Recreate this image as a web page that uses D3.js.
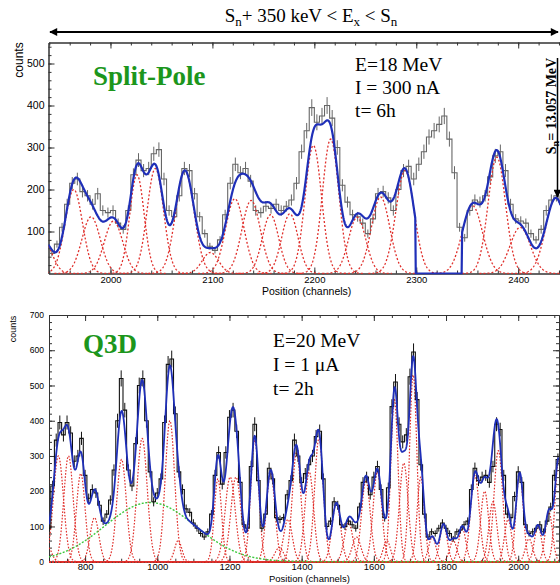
<!DOCTYPE html>
<html>
<head>
<meta charset="utf-8">
<script src="https://cdn.jsdelivr.net/npm/d3@7"></script>
<style>
	body { margin: 0; background: #fff; }
	svg { display: block; }
	text { white-space: pre; }
</style>
</head>
<body>
<svg id="chart" width="560" height="585"></svg>
<script>
// ---- Split-Pole spectrum (top) ----
const spBinStart = 1940; // low edge of first bin (channels)
const spBinWidth = 5;
const spCounts = [
	48, 70, 110, 165, 215, 225, 195, 185, 165, 190,
	150, 145, 150, 120, 105, 150, 235, 270, 245, 250,
	285, 295, 225, 150, 135, 185, 250, 245, 190, 135,
	95, 65, 55, 80, 140, 215, 260, 240, 250, 220,
	150, 145, 160, 155, 165, 150, 160, 175, 215, 290,
	340, 395, 360, 375, 400, 370, 300, 210, 170, 140,
	135, 120, 95, 130, 190, 195, 180, 150, 200, 245,
	255, 225, 260, 290, 325, 340, 355, 375, 320, 240,
	110, 85, 150, 175, 170, 185, 230, 280, 290, 245,
	165, 130, 125, 120, 95, 80, 105, 150, 175, 185,
	170
];
const spPeakCh    = [1935, 1964, 1981, 2003, 2026, 2044, 2073, 2098, 2122, 2138, 2157, 2176, 2199, 2216, 2242, 2265, 2289, 2355, 2379, 2402, 2437];
const spPeakAmp   = [75, 200, 135, 125, 235, 250, 245, 50, 178, 174, 140, 142, 305, 320, 134, 182, 245, 162, 277, 110, 180];
const spPeakSigma = [8, 8.5, 9, 9, 7, 8, 9, 8, 9, 9, 8, 8, 8, 8, 8.5, 9, 9, 10, 8.5, 10, 10];
const spFitGap = [2300, 2344]; // contaminant region left out of the fit
const spTicksX = [2000, 2100, 2200, 2300, 2400];
const spTicksY = [100, 200, 300, 400, 500];

// ---- Q3D spectrum (bottom) ----
const q3dBinStart = 700; // centre of first bin (channels)
const q3dBinWidth = 10;
const q3dCounts = [
	95, 215, 345, 395, 360, 395, 365, 285, 300, 350,
	245, 180, 205, 195, 160, 115, 135, 175, 260, 400,
	520, 430, 260, 215, 335, 500, 520, 400, 255, 170,
	195, 235, 395, 560, 575, 420, 255, 205, 150, 140,
	110, 95, 80, 70, 85, 135, 245, 310, 220, 310,
	410, 430, 370, 225, 105, 95, 270, 390, 230, 95,
	135, 265, 235, 125, 120, 125, 190, 230, 345, 300,
	225, 250, 275, 300, 355, 370, 235, 100, 115, 170,
	160, 105, 100, 115, 105, 95, 155, 225, 240, 190,
	240, 270, 205, 125, 210, 440, 510, 390, 340, 360,
	525, 595, 460, 275, 135, 70, 85, 80, 95, 110,
	95, 80, 65, 85, 90, 105, 115, 205, 265, 230,
	240, 245, 225, 270, 390, 375, 245, 135, 125, 185,
	255, 225, 105, 80, 85, 95, 105, 85, 115, 155,
	245, 290
];
const q3dPeakCh = [698, 726, 754, 788, 826, 901, 958, 1035, 1058, 1168, 1202, 1218, 1270, 1314, 1338, 1362, 1386, 1421, 1448, 1496, 1530, 1552,
	1578, 1610, 1636, 1657, 1683, 1709, 1730, 1762, 1793, 1820, 1845, 1880, 1907, 1930, 1945, 1972, 2004, 2030, 2055, 2085, 2112];
const q3dPeakAmp = [40, 300, 300, 250, 125, 290, 350, 400, 60, 235, 240, 240, 345, 250, 40, 120, 310, 255, 350, 165, 110, 70,
	230, 255, 60, 460, 280, 530, 240, 70, 105, 60, 95, 245, 200, 170, 315, 120, 250, 65, 100, 140, 290];
const q3dPeakSigma = [10, 14, 13, 12, 12, 13, 14, 13, 10, 10, 14, 14, 11, 12, 12, 12, 12, 12, 12, 12, 12, 12,
	12, 12, 10, 10, 12, 10, 10, 10, 10, 10, 10, 12, 11, 11, 12, 10, 10, 10, 10, 10, 10];
const q3dBackground = [980, 168, 125]; // centre, amplitude, sigma
const q3dTicksX = [800, 1000, 1200, 1400, 1600, 1800, 2000];
const q3dTicksY = [0, 100, 200, 300, 400, 500, 600, 700];

// ---- Shared helpers ----
const svg = d3.select('#chart');
const sansFont = '"Liberation Sans", Arial, Helvetica, sans-serif';
const serifFont = '"Liberation Serif", "Times New Roman", serif';
const colRed = '#e0302c';
const colBlue = '#1f2fb8';
const colGreen = '#1c961c';

const gauss = (x, c, a, s) => a * Math.exp(-((x - c) * (x - c)) / (2 * s * s));
const fitSum = function(x, centres, amps, sigmas) {
	return d3.sum(centres, (c, i) => gauss(x, c, amps[i], sigmas[i]));
};

const defs = svg.append('defs');

const drawAxes = function(g, x, y, opt) {
	const [y0, y1] = y.range();
	const [x0, x1] = x.range();
	const styleAxis = (sel, size) => {
		sel.attr('font-family', sansFont).attr('font-size', size);
		sel.selectAll('path, line').attr('stroke', '#333');
	};

	// bottom
	g.append('g').attr('transform', `translate(0,${y0})`)
		.call(d3.axisBottom(x).tickValues(opt.xMinor).tickSize(-opt.minor).tickSizeOuter(0).tickFormat(''))
		.call(styleAxis, opt.xFont);
	g.append('g').attr('transform', `translate(0,${y0})`)
		.call(d3.axisBottom(x).tickValues(opt.xMajor).tickSize(-opt.major).tickSizeOuter(0).tickPadding(opt.xPad).tickFormat(d3.format('d')))
		.call(styleAxis, opt.xFont);

	// top
	g.append('g').attr('transform', `translate(0,${y1})`)
		.call(d3.axisTop(x).tickValues(opt.xMinor).tickSize(-opt.minor).tickSizeOuter(0).tickFormat(''))
		.call(styleAxis, opt.xFont);
	g.append('g').attr('transform', `translate(0,${y1})`)
		.call(d3.axisTop(x).tickValues(opt.xMajor).tickSize(-opt.major).tickSizeOuter(0).tickFormat(''))
		.call(styleAxis, opt.xFont);

	// left
	g.append('g').attr('transform', `translate(${x0},0)`)
		.call(d3.axisLeft(y).tickValues(opt.yMinor).tickSize(-opt.minor).tickSizeOuter(0).tickFormat(''))
		.call(styleAxis, opt.yFont);
	g.append('g').attr('transform', `translate(${x0},0)`)
		.call(d3.axisLeft(y).tickValues(opt.yMajor).tickSize(-opt.major).tickSizeOuter(0).tickPadding(opt.yPad).tickFormat(d3.format('d')))
		.call(styleAxis, opt.yFont);

	// right (only where the frame is inside the picture)
	if (opt.rightAxis) {
		g.append('g').attr('transform', `translate(${x1},0)`)
			.call(d3.axisRight(y).tickValues(opt.yMinor).tickSize(-opt.minor).tickSizeOuter(0).tickFormat(''))
			.call(styleAxis, opt.yFont);
		g.append('g').attr('transform', `translate(${x1},0)`)
			.call(d3.axisRight(y).tickValues(opt.yMajor).tickSize(-opt.major).tickSizeOuter(0).tickFormat(''))
			.call(styleAxis, opt.yFont);
	}
};

const addClip = function(id, x, y) {
	defs.append('clipPath').attr('id', id).append('rect')
		.attr('x', x.range()[0])
		.attr('y', y.range()[1])
		.attr('width', x.range()[1] - x.range()[0])
		.attr('height', y.range()[0] - y.range()[1] + 1);
	return 'url(#' + id + ')';
};

// ================= Top panel: Split-Pole =================
const spX = d3.scaleLinear().domain([1939.2, 2441]).range([48.5, 560]);
const spY = d3.scaleLinear().domain([0, 550]).range([273.5, 42.5]);
const spG = svg.append('g');

drawAxes(spG, spX, spY, {
	xMajor: spTicksX, xMinor: d3.range(1940, 2441, 20),
	yMajor: spTicksY, yMinor: d3.range(20, 550, 20),
	major: 6, minor: 3, xPad: 3, yPad: 4, xFont: 9.5, yFont: 10.5, rightAxis: false
});

const spPlot = spG.append('g').attr('clip-path', addClip('spClip', spX, spY));

// measured histogram (grey steps with error bars)
const spBins = spCounts.map((v, i) => ({ lo: spBinStart + i * spBinWidth, hi: spBinStart + (i + 1) * spBinWidth, v: v }));
spPlot.append('path')
	.datum(spBins)
	.attr('fill', 'none')
	.attr('stroke', '#666')
	.attr('stroke-width', 1.1)
	.attr('d', d => {
		const path = ['M', spX(d[0].lo), spY(d[0].v)];
		d.forEach(b => path.push('H', spX(b.lo), 'V', spY(b.v), 'H', spX(b.hi)));
		return path.join(' ');
	});
spPlot.selectAll('line.err')
	.data(spBins)
.join('line')
	.attr('class', 'err')
	.attr('x1', d => spX((d.lo + d.hi) / 2))
	.attr('x2', d => spX((d.lo + d.hi) / 2))
	.attr('y1', d => spY(d.v + Math.sqrt(d.v)))
	.attr('y2', d => spY(d.v - Math.sqrt(d.v)))
	.attr('stroke', '#666')
	.attr('stroke-width', 1);

// individual peak components
const spLine = d3.line().x(d => spX(d[0])).y(d => spY(d[1]));
spPlot.selectAll('path.peak')
	.data(spPeakCh.map((c, i) => ({ c: c, a: spPeakAmp[i], s: spPeakSigma[i] })))
.join('path')
	.attr('class', 'peak')
	.attr('fill', 'none')
	.attr('stroke', colRed)
	.attr('stroke-width', 1.3)
	.attr('stroke-dasharray', '2,2')
	.attr('d', d => spLine(d3.range(d.c - 4 * d.s, d.c + 4 * d.s + 0.1, 0.5).map(x => [x, gauss(x, d.c, d.a, d.s)])));

// total fit
spPlot.append('path')
	.attr('fill', 'none')
	.attr('stroke', colBlue)
	.attr('stroke-width', 2.2)
	.attr('d', spLine(d3.range(1939, 2442, 0.5).map(x => {
		const inGap = x > spFitGap[0] - 1 && x < spFitGap[1] + 1;
		return [x, inGap ? 0 : fitSum(x, spPeakCh, spPeakAmp, spPeakSigma)];
	})));

// axis titles and annotations
svg.append('text')
	.attr('transform', 'translate(23,60) rotate(-90)')
	.attr('text-anchor', 'middle')
	.style('font-family', sansFont)
	.style('font-size', '12px')
	.text('counts');

svg.append('text')
	.attr('x', 262).attr('y', 295)
	.style('font-family', sansFont)
	.style('font-size', '10.5px')
	.text('Position (channels)');

svg.append('text')
	.attr('x', 93).attr('y', 85)
	.style('font-family', serifFont)
	.style('font-size', '27px')
	.style('font-weight', 'bold')
	.attr('fill', colGreen)
	.text('Split-Pole');

const spInfo = ['E=18 MeV', 'I = 300 nA', 't= 6h'];
svg.selectAll('text.spinfo')
	.data(spInfo)
.join('text')
	.attr('class', 'spinfo')
	.attr('x', 355)
	.attr('y', (d, i) => 71 + i * 23)
	.style('font-family', serifFont)
	.style('font-size', '19.5px')
	.text(d => d);

// header with double arrow
defs.append('marker')
	.attr('id', 'arrowHead')
	.attr('viewBox', '0 0 10 10')
	.attr('refX', 9).attr('refY', 5)
	.attr('markerWidth', 10).attr('markerHeight', 8)
	.attr('markerUnits', 'userSpaceOnUse')
	.attr('orient', 'auto-start-reverse')
	.append('path').attr('d', 'M0,0 L10,5 L0,10 Z').attr('fill', '#000');

svg.append('line')
	.attr('x1', 50).attr('x2', 558)
	.attr('y1', 32).attr('y2', 32)
	.attr('stroke', '#000')
	.attr('stroke-width', 2)
	.attr('marker-start', 'url(#arrowHead)')
	.attr('marker-end', 'url(#arrowHead)');

const header = svg.append('text')
	.attr('x', 311).attr('y', 22)
	.attr('text-anchor', 'middle')
	.style('font-family', serifFont)
	.style('font-size', '19px');
header.append('tspan').text('S');
header.append('tspan').attr('dy', 4).style('font-size', '13px').text('n');
header.append('tspan').attr('dy', -4).text('+ 350 keV < E');
header.append('tspan').attr('dy', 4).style('font-size', '13px').text('x');
header.append('tspan').attr('dy', -4).text(' < S');
header.append('tspan').attr('dy', 4).style('font-size', '13px').text('n');

// neutron threshold marker
svg.append('line')
	.attr('x1', 557.5).attr('x2', 557.5)
	.attr('y1', 58).attr('y2', 197)
	.attr('stroke', '#000')
	.attr('stroke-width', 1.5)
	.attr('marker-end', 'url(#arrowHead)');

const snLabel = svg.append('text')
	.attr('transform', 'translate(556,106) rotate(-90)')
	.attr('text-anchor', 'middle')
	.style('font-family', serifFont)
	.style('font-size', '14px')
	.style('font-weight', 'bold');
snLabel.append('tspan').text('S');
snLabel.append('tspan').attr('dy', 3).style('font-size', '10px').text('n');
snLabel.append('tspan').attr('dy', -3).text('= 13.057 MeV');

// ================= Bottom panel: Q3D =================
const q3dX = d3.scaleLinear().domain([700, 2113]).range([49, 559]);
const q3dY = d3.scaleLinear().domain([0, 700]).range([561.7, 315]);
const q3dG = svg.append('g');

drawAxes(q3dG, q3dX, q3dY, {
	xMajor: q3dTicksX, xMinor: d3.range(700, 2113, 50),
	yMajor: q3dTicksY, yMinor: d3.range(0, 701, 20),
	major: 6, minor: 3, xPad: 2, yPad: 5, xFont: 9.5, yFont: 8.5, rightAxis: true
});

const q3dPlot = q3dG.append('g').attr('clip-path', addClip('q3dClip', q3dX, q3dY));
const q3dLine = d3.line().x(d => q3dX(d[0])).y(d => q3dY(d[1]));
const q3dGrid = d3.range(700, 2113.5, 0.5);

// individual peak components, drawn over the full fit range
q3dPlot.selectAll('path.peak')
	.data(q3dPeakCh.map((c, i) => ({ c: c, a: q3dPeakAmp[i], s: q3dPeakSigma[i] })))
.join('path')
	.attr('class', 'peak')
	.attr('fill', 'none')
	.attr('stroke', colRed)
	.attr('stroke-width', 1.2)
	.attr('stroke-dasharray', '1.6,1.6')
	.attr('d', d => q3dLine(q3dGrid.map(x => [x, gauss(x, d.c, d.a, d.s)])));

// broad background component
q3dPlot.append('path')
	.attr('fill', 'none')
	.attr('stroke', '#3cc83c')
	.attr('stroke-width', 1.4)
	.attr('stroke-dasharray', '2,1.6')
	.attr('d', q3dLine(q3dGrid.map(x => [x, gauss(x, q3dBackground[0], q3dBackground[1], q3dBackground[2])])));

// measured histogram (black steps with error bars)
const q3dBins = q3dCounts.map((v, i) => ({
	lo: q3dBinStart + i * q3dBinWidth - q3dBinWidth / 2,
	hi: q3dBinStart + i * q3dBinWidth + q3dBinWidth / 2,
	v: v
}));
q3dPlot.append('path')
	.datum(q3dBins)
	.attr('fill', 'none')
	.attr('stroke', '#111')
	.attr('stroke-width', 1.1)
	.attr('d', d => {
		const path = ['M', q3dX(d[0].lo), q3dY(d[0].v)];
		d.forEach(b => path.push('H', q3dX(b.lo), 'V', q3dY(b.v), 'H', q3dX(b.hi)));
		return path.join(' ');
	});
q3dPlot.selectAll('line.err')
	.data(q3dBins)
.join('line')
	.attr('class', 'err')
	.attr('x1', d => q3dX((d.lo + d.hi) / 2))
	.attr('x2', d => q3dX((d.lo + d.hi) / 2))
	.attr('y1', d => q3dY(d.v + Math.sqrt(d.v)))
	.attr('y2', d => q3dY(d.v - Math.sqrt(d.v)))
	.attr('stroke', '#111')
	.attr('stroke-width', 1);

// total fit = peaks + background
q3dPlot.append('path')
	.attr('fill', 'none')
	.attr('stroke', colBlue)
	.attr('stroke-width', 1.8)
	.attr('d', q3dLine(q3dGrid.map(x => [x,
		fitSum(x, q3dPeakCh, q3dPeakAmp, q3dPeakSigma) + gauss(x, q3dBackground[0], q3dBackground[1], q3dBackground[2])])));

// axis titles and annotations
svg.append('text')
	.attr('transform', 'translate(16,329) rotate(-90)')
	.attr('text-anchor', 'middle')
	.style('font-family', sansFont)
	.style('font-size', '9px')
	.text('counts');

svg.append('text')
	.attr('x', 269).attr('y', 582)
	.style('font-family', sansFont)
	.style('font-size', '9.5px')
	.text('Position (channels)');

svg.append('text')
	.attr('x', 83).attr('y', 353)
	.style('font-family', serifFont)
	.style('font-size', '27px')
	.style('font-weight', 'bold')
	.attr('fill', colGreen)
	.text('Q3D');

const q3dInfo = ['E=20 MeV', 'I = 1 \u03bcA', 't= 2h'];
svg.selectAll('text.q3dinfo')
	.data(q3dInfo)
.join('text')
	.attr('class', 'q3dinfo')
	.attr('x', 273)
	.attr('y', (d, i) => 347 + i * 24)
	.style('font-family', serifFont)
	.style('font-size', '19.5px')
	.text(d => d);
</script>
</body>
</html>
